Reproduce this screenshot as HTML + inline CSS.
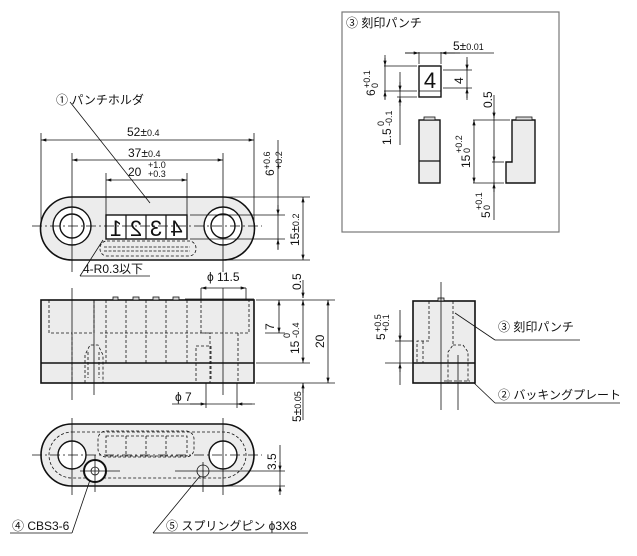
<!DOCTYPE html>
<html><head><meta charset="utf-8"><style>
html,body{margin:0;padding:0;background:#fff;}
svg{display:block;}
text{font-family:"Liberation Sans","Noto Sans CJK JP",sans-serif;fill:#111;}
</style></head><body>
<svg width="637" height="556" viewBox="0 0 637 556" xmlns="http://www.w3.org/2000/svg">
<defs>
<marker id="a" viewBox="0 0 10 6" refX="10" refY="3" markerWidth="7" markerHeight="4" orient="auto-start-reverse"><path d="M0,0L10,3L0,6z" fill="#111"/></marker>
</defs>
<g stroke="#111" stroke-width="0.8" fill="none">

<!-- ===== TOP VIEW ===== -->
<path d="M72,197 H223 A31.5,31.5 0 0 1 223,260 H72 A31.5,31.5 0 0 1 72,197 Z" fill="#ececec" stroke-width="1.6"/>
<circle cx="72" cy="226" r="19" fill="#fff" stroke-width="1.4"/>
<circle cx="72" cy="226" r="12" fill="#fff" stroke-width="1.4"/>
<circle cx="223" cy="226" r="19" fill="#fff" stroke-width="1.4"/>
<circle cx="223" cy="226" r="12" fill="#fff" stroke-width="1.4"/>
<rect x="106" y="215" width="81" height="24" fill="#fff" stroke-width="1.4"/>
<line x1="126" y1="215" x2="126" y2="239" stroke-width="1.2"/>
<line x1="146" y1="215" x2="146" y2="239" stroke-width="1.2"/>
<line x1="166" y1="215" x2="166" y2="239" stroke-width="1.2"/>
<rect x="100" y="241" width="96" height="15" rx="7" stroke-dasharray="3,2"/>
<line x1="104" y1="247" x2="190" y2="247" stroke-dasharray="3,1.5"/>
<line x1="104" y1="251" x2="190" y2="251" stroke-dasharray="3,1.5"/>
<line x1="32" y1="226" x2="262" y2="226" stroke-dasharray="10,3,2,3"/>
<line x1="41" y1="133" x2="41" y2="224"/>
<line x1="254" y1="133" x2="254" y2="224"/>
<line x1="72" y1="153" x2="72" y2="272"/>
<line x1="223" y1="153" x2="223" y2="272"/>
<line x1="106" y1="173" x2="106" y2="215"/>
<line x1="187" y1="173" x2="187" y2="215"/>
<line x1="41" y1="140" x2="254" y2="140" marker-start="url(#a)" marker-end="url(#a)"/>
<line x1="72" y1="160" x2="223" y2="160" marker-start="url(#a)" marker-end="url(#a)"/>
<line x1="106" y1="180" x2="187" y2="180" marker-start="url(#a)" marker-end="url(#a)"/>
<line x1="190" y1="215" x2="285" y2="215"/>
<line x1="190" y1="239" x2="285" y2="239"/>
<line x1="225" y1="197" x2="310" y2="197"/>
<line x1="225" y1="260" x2="310" y2="260"/>
<line x1="278" y1="140" x2="278" y2="250"/>
<path d="M278,205 L278,215" marker-end="url(#a)"/>
<path d="M278,249 L278,239" marker-end="url(#a)"/>
<line x1="303" y1="197" x2="303" y2="260" marker-start="url(#a)" marker-end="url(#a)"/>
<line x1="70" y1="102" x2="150" y2="203"/>
<line x1="103" y1="240" x2="80" y2="276"/>
<line x1="80" y1="276" x2="150" y2="276"/>

<!-- ===== FRONT VIEW ===== -->
<rect x="41" y="300" width="213" height="83" fill="#ececec" stroke-width="1.6"/>
<line x1="41" y1="363" x2="254" y2="363" stroke-width="1.6"/>
<rect x="113" y="297" width="5" height="3" fill="#ddd"/>
<rect x="133" y="297" width="6" height="3" fill="#ddd"/>
<rect x="153" y="297" width="6" height="3" fill="#ddd"/>
<rect x="173" y="297" width="6" height="3" fill="#ddd"/>
<line x1="185" y1="299" x2="254" y2="299"/>
<g stroke-dasharray="3,2">
<path d="M49,300 V333 H72 V383"/>
<path d="M94,300 V333 H72"/>
<path d="M100,333 H249 V300"/>
<path d="M201,300 V333 H210 V383"/>
<path d="M238,333 V383"/>
<line x1="106" y1="300" x2="106" y2="363"/>
<line x1="126" y1="300" x2="126" y2="363"/>
<line x1="146" y1="300" x2="146" y2="363"/>
<line x1="166" y1="300" x2="166" y2="363"/>
<line x1="187" y1="300" x2="187" y2="363"/>
<path d="M85,383 V355 L90,345 L98,345 L103,355 V383"/>
<line x1="88" y1="352" x2="88" y2="378"/><line x1="99" y1="352" x2="99" y2="378"/>
<path d="M196,381 V346 H211 V381"/>
</g>
<line x1="72" y1="288" x2="72" y2="400"/>
<line x1="223" y1="288" x2="223" y2="395"/>
<line x1="94" y1="300" x2="94" y2="395"/>
<line x1="201" y1="288" x2="201" y2="300"/>
<line x1="246" y1="288" x2="246" y2="300"/>
<line x1="201" y1="288" x2="246" y2="288" marker-start="url(#a)" marker-end="url(#a)"/>
<line x1="206" y1="383" x2="206" y2="408"/>
<line x1="237" y1="383" x2="237" y2="408"/>
<line x1="172" y1="404" x2="255" y2="404"/>
<path d="M190,404 L206,404" marker-end="url(#a)"/>
<path d="M252,404 L237,404" marker-end="url(#a)"/>
<line x1="256" y1="300" x2="335" y2="300"/>
<line x1="256" y1="383" x2="335" y2="383"/>
<line x1="256" y1="363" x2="310" y2="363"/>
<line x1="265" y1="333" x2="285" y2="333"/>
<line x1="279" y1="300" x2="279" y2="333" marker-start="url(#a)" marker-end="url(#a)"/>
<line x1="303" y1="300" x2="303" y2="363" marker-start="url(#a)" marker-end="url(#a)"/>
<line x1="328" y1="300" x2="328" y2="383" marker-start="url(#a)" marker-end="url(#a)"/>
<line x1="303" y1="280" x2="303" y2="298"/>
<path d="M303,290 L303,298" marker-end="url(#a)"/>
<line x1="303" y1="383" x2="303" y2="420"/>
<path d="M303,393 L303,383" marker-end="url(#a)"/>

<!-- ===== SIDE VIEW ===== -->
<rect x="413" y="301" width="62" height="82" fill="#ececec" stroke-width="1.6"/>
<line x1="413" y1="363" x2="475" y2="363" stroke-width="1.6"/>
<rect x="438" y="298" width="6" height="3" fill="#ddd"/>
<line x1="441" y1="282" x2="441" y2="410"/>
<line x1="458" y1="355" x2="458" y2="410"/>
<g stroke-dasharray="3,2">
<path d="M429,301 V341 H417 V363"/>
<line x1="423" y1="341" x2="423" y2="363"/>
<path d="M453,301 V345 L448,352 V383"/>
<path d="M453,345 L463,345 L468,352 V383"/>
<line x1="447" y1="363" x2="470" y2="363"/>
<path d="M444,381 H470"/>
</g>
<line x1="395" y1="341" x2="413" y2="341"/>
<line x1="385" y1="363" x2="413" y2="363"/>
<line x1="400" y1="310" x2="400" y2="385"/>
<path d="M400,333 L400,341" marker-end="url(#a)"/>
<path d="M400,372 L400,363" marker-end="url(#a)"/>
<line x1="455" y1="313" x2="495" y2="340"/>
<line x1="495" y1="340" x2="580" y2="340"/>
<line x1="474" y1="383" x2="495" y2="403"/>
<line x1="495" y1="403" x2="620" y2="403"/>

<!-- ===== BOTTOM VIEW ===== -->
<path d="M72,424 H223 A31,31 0 0 1 223,486 H72 A31,31 0 0 1 72,424 Z" fill="#ececec" stroke-width="1.6"/>
<path d="M72,432 H223 A23,23 0 0 1 223,478 H72 A23,23 0 0 1 72,432 Z" stroke-dasharray="3,2"/>
<rect x="98" y="431" width="96" height="26" rx="8" stroke-dasharray="3,2"/>
<rect x="106" y="436" width="81" height="20" stroke-dasharray="3,2"/>
<line x1="126" y1="436" x2="126" y2="456" stroke-dasharray="3,2"/>
<line x1="146" y1="436" x2="146" y2="456" stroke-dasharray="3,2"/>
<line x1="166" y1="436" x2="166" y2="456" stroke-dasharray="3,2"/>
<circle cx="72" cy="455" r="14" fill="#fff" stroke-width="1.4"/>
<circle cx="223" cy="455" r="14" fill="#fff" stroke-width="1.4"/>
<circle cx="95" cy="471" r="11" fill="#fff" stroke-width="2"/>
<circle cx="95" cy="471" r="4"/>
<circle cx="203" cy="471" r="6"/>
<line x1="32" y1="455" x2="262" y2="455" stroke-dasharray="10,3,2,3"/>
<line x1="72" y1="418" x2="72" y2="495"/>
<line x1="223" y1="418" x2="223" y2="495"/>
<line x1="95" y1="455" x2="95" y2="492"/>
<line x1="203" y1="462" x2="203" y2="492"/>
<line x1="80" y1="471" x2="120" y2="471"/>
<line x1="175" y1="471" x2="285" y2="471"/>
<line x1="225" y1="486" x2="285" y2="486"/>
<line x1="280" y1="445" x2="280" y2="490"/>
<path d="M280,462 L280,471" marker-end="url(#a)"/>
<path d="M280,495 L280,486" marker-end="url(#a)"/>
<line x1="90" y1="480" x2="72" y2="533"/>
<line x1="10" y1="533" x2="72" y2="533"/>
<line x1="200" y1="476" x2="153" y2="533"/>
<line x1="153" y1="533" x2="308" y2="533"/>

<!-- ===== PUNCH BOX ===== -->
<rect x="342" y="12" width="217" height="220" stroke="#777" stroke-width="1.2"/>
<rect x="419" y="66" width="22" height="31" fill="#fff" stroke-width="1.4"/>
<line x1="419" y1="91" x2="441" y2="91"/>
<line x1="419" y1="52" x2="419" y2="64"/><line x1="441" y1="52" x2="441" y2="64"/>
<line x1="405" y1="53" x2="460" y2="53"/>
<path d="M405,53 L419,53" marker-end="url(#a)"/>
<path d="M455,53 L441,53" marker-end="url(#a)"/>
<line x1="441" y1="53" x2="494" y2="53"/>
<line x1="384" y1="66" x2="417" y2="66"/>
<line x1="384" y1="91" x2="417" y2="91"/>
<line x1="397" y1="97" x2="417" y2="97"/>
<line x1="385" y1="55" x2="385" y2="100"/>
<path d="M385,58 L385,66" marker-end="url(#a)"/>
<path d="M385,99 L385,91" marker-end="url(#a)"/>
<line x1="400" y1="72" x2="400" y2="145"/>
<path d="M400,82 L400,91" marker-end="url(#a)"/>
<path d="M400,106 L400,97" marker-end="url(#a)"/>
<line x1="443" y1="70" x2="472" y2="70"/>
<line x1="443" y1="88" x2="472" y2="88"/>
<line x1="467" y1="57" x2="467" y2="100"/>
<path d="M467,60 L467,70" marker-end="url(#a)"/>
<path d="M467,98 L467,88" marker-end="url(#a)"/>
<rect x="419" y="120" width="21" height="63" fill="#ececec" stroke-width="1.4"/>
<line x1="419" y1="161" x2="440" y2="161" stroke-width="1.2"/>
<rect x="424" y="117" width="11" height="3" fill="#ddd"/>
<path d="M512,120 H535 V183 H506 V162 H512 Z" fill="#ececec" stroke-width="1.4"/>
<rect x="516" y="117" width="16" height="3" fill="#ddd"/>
<line x1="473" y1="120" x2="510" y2="120"/>
<line x1="473" y1="183" x2="504" y2="183"/>
<line x1="492" y1="162" x2="504" y2="162"/>
<line x1="474" y1="120" x2="474" y2="183" marker-start="url(#a)" marker-end="url(#a)"/>
<line x1="494" y1="95" x2="494" y2="220"/>
<path d="M494,111 L494,118" marker-end="url(#a)"/>
<path d="M494,150 L494,162" marker-end="url(#a)"/>
<path d="M494,192 L494,183" marker-end="url(#a)"/>
</g>

<!-- ===== TEXT ===== -->
<g font-size="12">
<text x="56" y="104">① パンチホルダ</text>
<text x="127" y="136">52±<tspan font-size="9">0.4</tspan></text>
<text x="128" y="157">37±<tspan font-size="9">0.4</tspan></text>
<text x="128" y="176">20</text>
<text x="148" y="168" font-size="9">+1.0</text>
<text x="148" y="177" font-size="9">+0.3</text>
<text x="83" y="273">4-R0.3以下</text>
<text x="207" y="281">ϕ 11.5</text>
<text x="175" y="401">ϕ 7</text>
<text x="498" y="331">③ 刻印パンチ</text>
<text x="498" y="399">② バッキングプレート</text>
<text x="12" y="530">④ CBS3-6</text>
<text x="166" y="530">⑤ スプリングピン ϕ3X8</text>
<text x="346" y="27">③ 刻印パンチ</text>
<text x="453" y="50">5±<tspan font-size="9">0.01</tspan></text>
</g>
<g font-size="22" text-anchor="middle">
<text transform="translate(116,236) scale(-1,1)">1</text>
<text transform="translate(136,236) scale(-1,1)">2</text>
<text transform="translate(156,236) scale(-1,1)">3</text>
<text transform="translate(176.5,236) scale(-1,1)">4</text>
</g>
<text x="430" y="88" font-size="22" text-anchor="middle">4</text>
<g font-size="12">
<text transform="translate(274,176) rotate(-90)">6<tspan font-size="9" dy="-4">+0.6</tspan></text>
<text transform="translate(282,176) rotate(-90)"><tspan dx="7" font-size="9">+0.2</tspan></text>
<text transform="translate(299,246) rotate(-90)">15±<tspan font-size="9">0.2</tspan></text>
<text transform="translate(301,290) rotate(-90)">0.5</text>
<text transform="translate(274,330) rotate(-90)">7</text>
<text transform="translate(299,354) rotate(-90)">15</text>
<text transform="translate(290,338) rotate(-90)" font-size="9">0</text>
<text transform="translate(299,338) rotate(-90)" font-size="9">-0.4</text>
<text transform="translate(324,348) rotate(-90)">20</text>
<text transform="translate(301,422) rotate(-90)">5±<tspan font-size="9">0.05</tspan></text>
<text transform="translate(276,470) rotate(-90)">3.5</text>
<text transform="translate(385,340) rotate(-90)">5</text>
<text transform="translate(381,332) rotate(-90)" font-size="9">+0.5</text>
<text transform="translate(389,332) rotate(-90)" font-size="9">+0.1</text>
<text transform="translate(375,96) rotate(-90)">6</text>
<text transform="translate(370,88) rotate(-90)" font-size="9">+0.1</text>
<text transform="translate(378,88) rotate(-90)" font-size="9">0</text>
<text transform="translate(391,145) rotate(-90)">1.5</text>
<text transform="translate(384,126) rotate(-90)" font-size="9">0</text>
<text transform="translate(392,126) rotate(-90)" font-size="9">-0.1</text>
<text transform="translate(463,84) rotate(-90)">4</text>
<text transform="translate(492,108) rotate(-90)">0.5</text>
<text transform="translate(470,168) rotate(-90)">15</text>
<text transform="translate(462,153) rotate(-90)" font-size="9">+0.2</text>
<text transform="translate(470,153) rotate(-90)" font-size="9">0</text>
<text transform="translate(490,218) rotate(-90)">5</text>
<text transform="translate(482,210) rotate(-90)" font-size="9">+0.1</text>
<text transform="translate(490,210) rotate(-90)" font-size="9">0</text>
</g>
</svg>
</body></html>
